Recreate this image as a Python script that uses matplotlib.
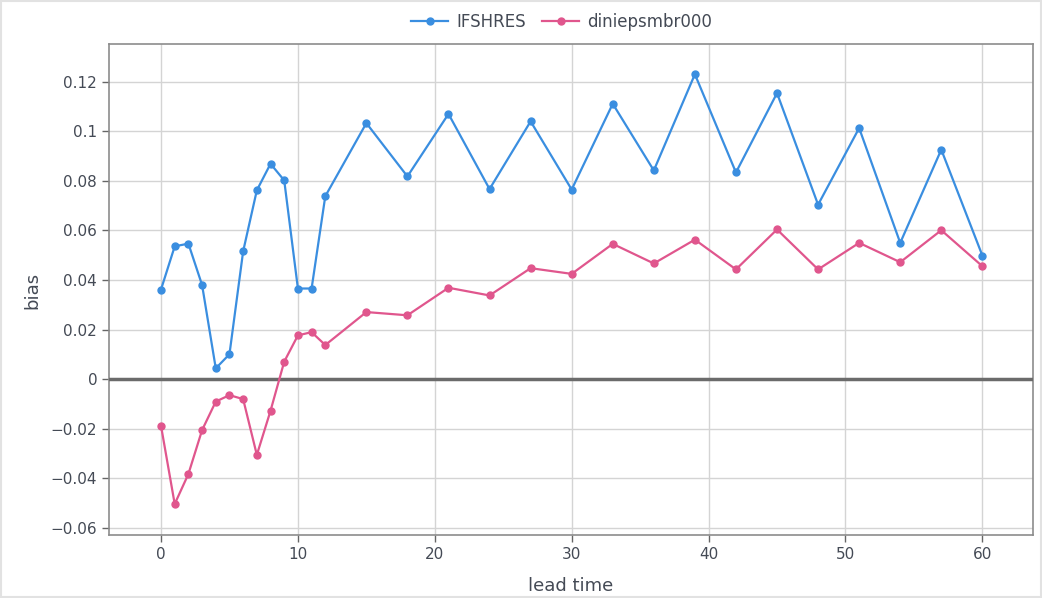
import numpy as np
import matplotlib.pyplot as plt
from matplotlib.patches import Rectangle

# lead times (hours) and mean bias per model
lead_time = [0, 1, 2, 3, 4, 5, 6, 7, 8, 9, 10, 11, 12,
             15, 18, 21, 24, 27, 30, 33, 36, 39, 42, 45, 48, 51, 54, 57, 60]
ifshres = [0.0362, 0.0536, 0.0547, 0.0380, 0.0044, 0.0101, 0.0516, 0.0762, 0.0869,
           0.0802, 0.0366, 0.0366, 0.0738,
           0.1033, 0.0818, 0.1070, 0.0767, 0.1040, 0.0765, 0.1111, 0.0842,
           0.1230, 0.0834, 0.1154, 0.0704, 0.1013, 0.0550, 0.0926, 0.0499]
diniepsmbr000 = [-0.0188, -0.0503, -0.0382, -0.0205, -0.0090, -0.0064, -0.0080, -0.0305,
                 -0.0127, 0.0071, 0.0177, 0.0190, 0.0138,
                 0.0271, 0.0258, 0.0369, 0.0338, 0.0448, 0.0425, 0.0546, 0.0467,
                 0.0563, 0.0443, 0.0604, 0.0443, 0.0550, 0.0472, 0.0601, 0.0456]

y_ticks = [-0.06, -0.04, -0.02, 0, 0.02, 0.04, 0.06, 0.08, 0.1, 0.12]
y_labels = ['\u22120.06', '\u22120.04', '\u22120.02', '0', '0.02', '0.04', '0.06', '0.08', '0.1', '0.12']
x_ticks = [0, 10, 20, 30, 40, 50, 60]

blue, pink = '#3a8ee0', '#e0568d'
text_col = '#444a55'

fig = plt.figure(figsize=(10.42, 5.98), dpi=100)
ax = fig.add_axes([109 / 1042, 63 / 598, 924 / 1042, 491 / 598])

ax.plot(lead_time, ifshres, color=blue, lw=1.6, marker='o', ms=5, label='IFSHRES', zorder=4)
ax.plot(lead_time, diniepsmbr000, color=pink, lw=1.6, marker='o', ms=5, label='diniepsmbr000', zorder=4)
ax.axhline(0, color='#6b6b6b', lw=2.5, zorder=3)

ax.set_xlim(-3.8, 63.7)
ax.set_ylim(-0.0628, 0.1352)
ax.set_xticks(x_ticks)
ax.set_yticks(y_ticks)
ax.set_yticklabels(y_labels)
ax.grid(True, color='#d4d4d4', lw=1)
ax.set_axisbelow(True)
for s in ax.spines.values():
    s.set_color('#8c8c8c')
    s.set_linewidth(1.2)
ax.tick_params(colors='#666666', labelcolor=text_col, labelsize=11, length=5, width=1)

# axis titles placed in figure pixels
fig.text(571 / 1042, 1 - 586 / 598, 'lead time', fontsize=13, color=text_col,
         ha='center', va='center')
fig.text(32 / 1042, 1 - 290 / 598, 'bias', fontsize=13, color=text_col,
         ha='center', va='center', rotation=90)

ax.legend(loc='lower center', bbox_to_anchor=(0.49, 1.0), ncol=2, frameon=False,
          fontsize=12, labelcolor=text_col, handlelength=2.2, columnspacing=1.0,
          handletextpad=0.5, borderaxespad=0.4)

# light frame around the whole figure
fig.patches.append(Rectangle((0.001, 0.001), 0.998, 0.998, transform=fig.transFigure,
                             fill=False, edgecolor='#e2e2e2', lw=1.5))

fig.savefig('out.png', dpi=100)
